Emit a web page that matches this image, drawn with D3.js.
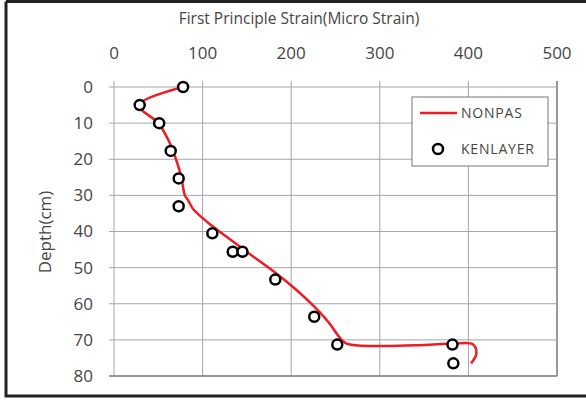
<!DOCTYPE html>
<html>
<head>
<meta charset="utf-8">
<script src="https://cdn.jsdelivr.net/npm/d3@7"></script>
<style>
  body { margin: 0; background: #fff; }
  text { font-family: "Open Sans", sans-serif; fill: #454545; }
</style>
</head>
<body>
<div id="plot"></div>
<script>
// strain ticks and depth ticks
const xTicks = [0, 100, 200, 300, 400, 500];
const yTicks = [0, 10, 20, 30, 40, 50, 60, 70, 80];

// NONPAS curve (strain, depth)
const nonpasStrain = [78, 28, 50, 62, 70, 76, 80, 84, 90, 112, 130, 148, 180, 205, 228, 245, 252, 262, 300, 350, 383, 405, 409, 403];
const nonpasDepth  = [0, 5, 10, 15, 20, 25, 30, 31.5, 34, 38.7, 42, 45.3, 51, 56, 61.3, 66, 68.5, 71, 71.7, 71.4, 71, 71.2, 73.8, 76.5];

// KENLAYER points
const kenStrain = [78, 29, 51, 64, 73, 73, 111, 134, 145, 182, 226, 252, 382, 383];
const kenDepth  = [0, 5, 10, 17.7, 25.3, 33, 40.5, 45.6, 45.6, 53.3, 63.6, 71.3, 71.3, 76.5];

const width = 586;
const height = 403;

const svg = d3.select("div#plot")
  .append("svg")
  .attr("width", width)
  .attr("height", height);

// outer frame
svg.append("path")
  .attr("d", `M6,1.5 H590 M6,1.5 V396 H590`)
  .attr("fill", "none")
  .attr("stroke", "#222")
  .attr("stroke-width", 3);

const x = d3.scaleLinear().domain([0, 500]).range([114, 557]);
const y = d3.scaleLinear().domain([0, 80]).range([87, 376]);

// grid
svg.append("g")
  .selectAll("line")
  .data(xTicks)
  .enter().append("line")
  .attr("x1", d => x(d)).attr("x2", d => x(d))
  .attr("y1", y(0) - 6).attr("y2", y(80))
  .attr("stroke", d => d === 500 ? "#777" : "#a6a6a6")
  .attr("stroke-width", d => d === 500 ? 1.5 : 1);

svg.append("g")
  .selectAll("line")
  .data(yTicks)
  .enter().append("line")
  .attr("x1", x(0) - 5).attr("x2", x(500))
  .attr("y1", d => y(d)).attr("y2", d => y(d))
  .attr("stroke", d => d === 80 ? "#777" : "#a6a6a6")
  .attr("stroke-width", d => d === 80 ? 1.5 : 1);

// tick labels
svg.append("g")
  .selectAll("text")
  .data(xTicks)
  .enter().append("text")
  .attr("x", d => x(d))
  .attr("y", 59)
  .attr("text-anchor", "middle")
  .style("font-size", "17px")
  .text(d => d);

svg.append("g")
  .selectAll("text")
  .data(yTicks)
  .enter().append("text")
  .attr("x", 93)
  .attr("y", d => y(d))
  .attr("dy", ".35em")
  .attr("text-anchor", "end")
  .style("font-size", "17px")
  .text(d => d);

// titles
svg.append("text")
  .attr("x", 299)
  .attr("y", 24)
  .attr("text-anchor", "middle")
  .style("font-size", "15.5px")
  .text("First Principle Strain(Micro Strain)");

svg.append("text")
  .attr("transform", "translate(51,232) rotate(-90)")
  .attr("text-anchor", "middle")
  .style("font-size", "17px")
  .text("Depth(cm)");

// NONPAS line
const line = d3.line()
  .x(d => x(d[0]))
  .y(d => y(d[1]))
  .curve(d3.curveCatmullRom.alpha(0.5));

svg.append("path")
  .datum(d3.zip(nonpasStrain, nonpasDepth))
  .attr("d", line)
  .attr("fill", "none")
  .attr("stroke", "#ee1c25")
  .attr("stroke-width", 2.5);

// KENLAYER markers
svg.append("g")
  .selectAll("circle")
  .data(d3.zip(kenStrain, kenDepth))
  .enter().append("circle")
  .attr("cx", d => x(d[0]))
  .attr("cy", d => y(d[1]))
  .attr("r", 5)
  .attr("fill", "#fff")
  .attr("stroke", "#000")
  .attr("stroke-width", 2.5);

// legend
const legend = svg.append("g");
legend.append("rect")
  .attr("x", 412).attr("y", 97)
  .attr("width", 136).attr("height", 69)
  .attr("fill", "#fff")
  .attr("stroke", "#777");

legend.append("line")
  .attr("x1", 420).attr("x2", 457)
  .attr("y1", 113).attr("y2", 113)
  .attr("stroke", "#ee1c25")
  .attr("stroke-width", 2.5);

legend.append("circle")
  .attr("cx", 438).attr("cy", 149)
  .attr("r", 5)
  .attr("fill", "#fff")
  .attr("stroke", "#000")
  .attr("stroke-width", 2.5);

legend.selectAll("text.lab")
  .data(["NONPAS", "KENLAYER"])
  .enter().append("text")
  .attr("class", "lab")
  .attr("x", 461)
  .attr("y", (d, i) => 113 + i * 36)
  .attr("dy", ".35em")
  .style("font-size", "14px")
  .style("letter-spacing", "0.8px")
  .text(d => d);
</script>
</body>
</html>
